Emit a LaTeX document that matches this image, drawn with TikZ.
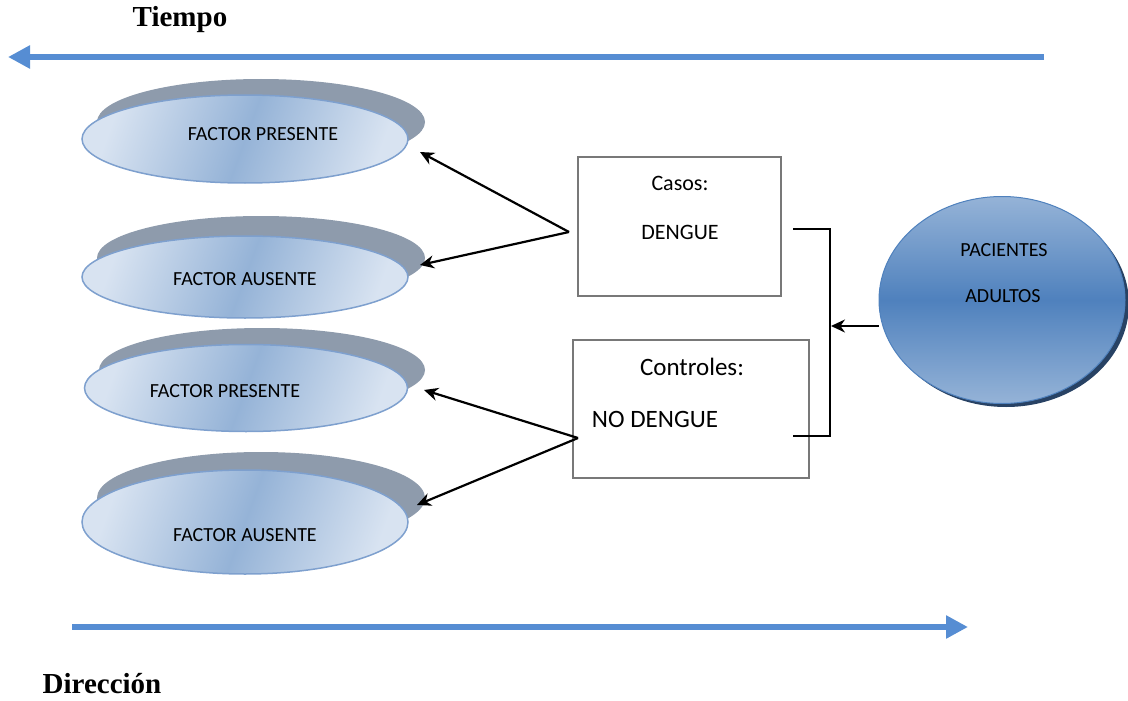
\documentclass[tikz,border=0pt]{standalone}
\usepackage{fontspec}
\setmainfont{Carlito}
\newfontfamily\timesf{Liberation Serif}
\usetikzlibrary{shapes.geometric,arrows.meta}
\definecolor{arrblue}{RGB}{86,141,211}
\definecolor{shgray}{RGB}{142,155,172}
\definecolor{elight}{RGB}{216,227,241}
\definecolor{emid}{RGB}{149,179,215}
\definecolor{eborder}{RGB}{126,160,206}
\definecolor{cdark}{RGB}{79,129,189}
\definecolor{cshadow}{RGB}{40,66,100}
\definecolor{boxgray}{RGB}{120,120,120}
\tikzset{
  bigarrow/.style={draw=arrblue, line width=6pt, -{Triangle[length=22pt,width=22pt]}},
  factor/.style={ellipse, draw=eborder, line width=1.5pt, left color=elight, right color=elight, middle color=emid, shading angle=70, inner sep=0pt, minimum width=326pt},
  factortext/.style={font=\fontsize{20}{24}\selectfont},
  casebox/.style={draw=boxgray, line width=2pt, fill=white},
  conn/.style={draw=black, line width=2.2pt, -{Stealth[length=14pt,width=13pt]}},
  bracket/.style={draw=black, line width=2.2pt},
  titletext/.style={font=\timesf\bfseries\fontsize{29}{32}\selectfont},
}
\begin{document}
\begin{tikzpicture}[x=1pt,y=-1pt]
\useasboundingbox (0,0) rectangle (1128,701);
% time and direction arrows
\coordinate (t1) at (1044,57);
\coordinate (t2) at (8,57);
\draw[bigarrow] (t1) -- (t2);
\node[titletext] (tiempo) at (180,20) {Tiempo};
\coordinate (d1) at (72,627);
\coordinate (d2) at (968,627);
\draw[bigarrow] (d1) -- (d2);
\node[titletext] (direccion) at (102,684) {Dirección};
% shadows of factor ellipses
\fill[shgray] (261,122) ellipse [x radius=164, y radius=43];
\fill[shgray] (261,258) ellipse [x radius=164, y radius=42];
\fill[shgray] (262,370) ellipse [x radius=163, y radius=42];
\fill[shgray] (261,498) ellipse [x radius=164, y radius=46];
% factor ellipses
\node[factor, minimum height=88pt] (f1) at (245,139) {};
\node[factor, minimum height=82pt] (f2) at (245,277) {};
\node[factor, minimum width=323pt, minimum height=87pt] (f3) at (246,388) {};
\node[factor, minimum height=104pt] (f4) at (245,522) {};
\node[factortext] (f1t) at (263,134) {FACTOR PRESENTE};
\node[factortext] (f2t) at (245,279) {FACTOR AUSENTE};
\node[factortext] (f3t) at (225,391) {FACTOR PRESENTE};
\node[factortext] (f4t) at (245,535) {FACTOR AUSENTE};
% boxes
\node[casebox, minimum width=203pt, minimum height=139pt, inner sep=0pt] (casos) at (679.5,226.5) {};
\node[font=\fontsize{22}{26}\selectfont] (casost) at (680,183) {Casos:};
\node[font=\fontsize{22}{26}\selectfont] (dengue) at (680,232) {DENGUE};
\node[casebox, minimum width=236pt, minimum height=138pt, inner sep=0pt] (controles) at (691,409) {};
\node[font=\fontsize{25}{29}\selectfont] (controlest) at (692,367) {Controles:};
\node[font=\fontsize{25}{29}\selectfont] (nodengue) at (655,419) {NO DENGUE};
% patients
\fill[cshadow] (1006,304) ellipse [x radius=123, y radius=103];
\node[ellipse, draw=cdark, line width=1pt, top color=emid, bottom color=emid, middle color=cdark, minimum width=246pt, minimum height=207pt, inner sep=0pt] (pac) at (1002,300) {};
\node[font=\fontsize{20}{24}\selectfont] (pact) at (1004,250) {PACIENTES};
\node[font=\fontsize{20}{24}\selectfont] (adu) at (1003,296) {ADULTOS};
% connectors
\coordinate (cj) at (569,232);
\coordinate (ca) at (420,152);
\coordinate (cb) at (420,265);
\draw[conn] (cj) -- (ca);
\draw[conn] (cj) -- (cb);
\coordinate (kj) at (578,438);
\coordinate (ka) at (424,390);
\coordinate (kb) at (417,505);
\draw[conn] (kj) -- (ka);
\draw[conn] (kj) -- (kb);
\coordinate (b1) at (793,229);
\coordinate (b2) at (830,229);
\coordinate (b3) at (830,436);
\coordinate (b4) at (793,436);
\draw[bracket] (b1) -- (b2) -- (b3) -- (b4);
\coordinate (pa) at (831,326);
\draw[conn] (pac.west |- pa) -- (pa);
\end{tikzpicture}
\end{document}
